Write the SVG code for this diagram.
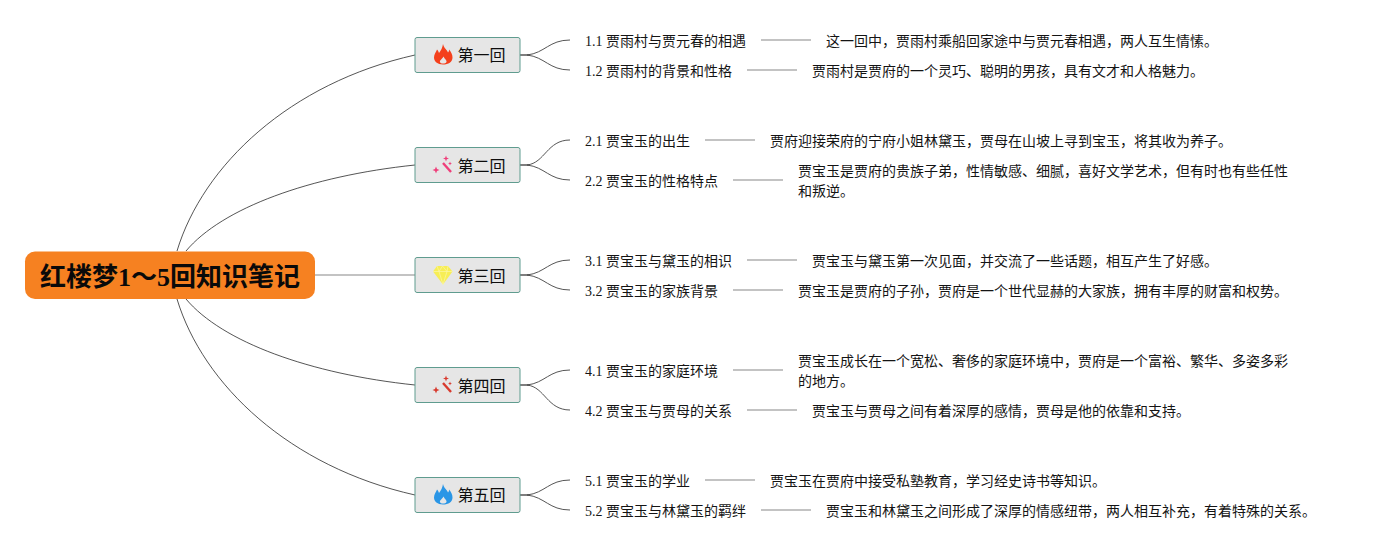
<svg xmlns="http://www.w3.org/2000/svg" width="1376" height="550" viewBox="0 0 1376 550">
<style>
text{font-family:"Liberation Serif","Noto Sans CJK SC",serif}
.r{font-size:26px;font-weight:700;fill:#0a0a0a}
.t{font-size:16px;fill:#0d0d0d}
.s,.d{font-size:14px;fill:#141414}
.box{fill:#e6e6e6;stroke:#5f9c8f;stroke-width:1}
.c{fill:none;stroke:#2a2a2a;stroke-width:.8}
.b{fill:none;stroke:#555;stroke-width:1}
.st{fill:none;stroke:#555;stroke-width:1.6}
.l{fill:none;stroke:#888;stroke-width:1.2}
</style>
<defs>
<path id="flame" d="M0-10.500C1-6 4-5 5-2C6-3 6-4 6-5C8-3 9.500 0 9.500 3C9.500 7.500 5.500 10 0 10C-5.500 10-9 7-9 3C-9-.500-7-2-6-5C-5-4-4.500-3-4-1.500C-2-4-.500-7 0-10.500ZM.5 2C-1 5-3.500 5.500-3 7.500C-2.500 9.500 2.500 9.500 3.500 7.500C4 5.500 1.500 4.500.5 2Z" fill-rule="evenodd"/>
<g id="wand"><path d="M1-3L9 6" stroke-width="2.4" stroke="currentColor" fill="none"/><path d="M-6 .5L-5 3L-2.500 4L-5 5L-6 7.500L-7 5L-9.500 4L-7 3ZM4-10.500L4.800-8.300L7-7.500L4.800-6.700L4-4.500L3.200-6.700L1-7.500L3.200-8.300ZM8-4.500L8.600-3L10-2.500L8.600-2L8-.500L7.400-2L6-2.500L7.400-3Z" fill="currentColor"/></g>
</defs>
<g id="connectors">
<path class="c" d="M177 251C203 165 290 83 415 55"/>
<path class="c" d="M186 251C222 208 310 176 415 165"/>
<path class="l" d="M315 275H415"/>
<path class="c" d="M186 299C222 342 310 374 415 385"/>
<path class="c" d="M177 299C203 385 290 467 415 495"/>
<path class="st" d="M520 55H530M520 165H530M520 275H530M520 385H530M520 495H530"/>
<path class="b" d="M527 55C545 53 549 40 570 40M527 55C545 57 549 70 570 70"/>
<path class="b" d="M527 165C545 163 547 140 570 140M527 165C545 167 549 180 570 180"/>
<path class="b" d="M527 275C545 273 549 260 570 260M527 275C545 277 549 290 570 290"/>
<path class="b" d="M527 385C545 383 549 370 570 370M527 385C545 387 547 410 570 410"/>
<path class="b" d="M527 495C545 493 549 480 570 480M527 495C545 497 549 510 570 510"/>
<path class="l" d="M761 40H811M747 70H797M705 140H755M733 180H783M747 260H797M733 290H783M733 370H783M747 410H797M705 480H755M761 510H811"/>
</g>
<g id="root"><rect x="25" y="251.500" width="290" height="47.500" rx="10" fill="#f68121"/><text class="r" x="40" y="286">红楼梦1～5回知识笔记</text></g>
<g id="n1"><rect class="box" x="415" y="37.500" width="105" height="35" rx="2"/><use href="#flame" x="443" y="54.500" fill="#f4401c"/><text class="t" x="457.500" y="61">第一回</text></g>
<g id="n2"><rect class="box" x="415" y="147.500" width="105" height="35" rx="2"/><use href="#wand" x="442" y="166" style="color:#ef3e7a"/><text class="t" x="457.500" y="172">第二回</text></g>
<g id="n3"><rect class="box" x="415" y="257.500" width="105" height="35" rx="2"/><path d="M437 266H448L452.500 271.500L443 284.500L433 271.500Z" fill="#f7ee55"/><path d="M433 271.500H452.500M437 266L439 271.500L443 284.500L447 271.500L448 266M439 271.500L442.500 266L447 271.500" fill="none" stroke="#fbf7a8" stroke-width=".7"/><text class="t" x="457.500" y="282">第三回</text></g>
<g id="n4"><rect class="box" x="415" y="367.500" width="105" height="35" rx="2"/><use href="#wand" x="442" y="386" style="color:#d83a2e"/><text class="t" x="457.500" y="392">第四回</text></g>
<g id="n5"><rect class="box" x="415" y="477.500" width="105" height="35" rx="2"/><use href="#flame" x="443" y="494.500" fill="#2a96e6"/><text class="t" x="457.500" y="501">第五回</text></g>
<g id="n1-1"><text class="s" x="585" y="46">1.1 贾雨村与贾元春的相遇</text></g>
<g id="n1-1-d"><text class="d" x="826" y="46">这一回中，贾雨村乘船回家途中与贾元春相遇，两人互生情愫。</text></g>
<g id="n1-2"><text class="s" x="585" y="76">1.2 贾雨村的背景和性格</text></g>
<g id="n1-2-d"><text class="d" x="812" y="76">贾雨村是贾府的一个灵巧、聪明的男孩，具有文才和人格魅力。</text></g>
<g id="n2-1"><text class="s" x="585" y="146">2.1 贾宝玉的出生</text></g>
<g id="n2-1-d"><text class="d" x="770" y="146">贾府迎接荣府的宁府小姐林黛玉，贾母在山坡上寻到宝玉，将其收为养子。</text></g>
<g id="n2-2"><text class="s" x="585" y="186">2.2 贾宝玉的性格特点</text></g>
<g id="n2-2-d"><text class="d" x="798" y="176">贾宝玉是贾府的贵族子弟，性情敏感、细腻，喜好文学艺术，但有时也有些任性</text><text class="d" x="798" y="196">和叛逆。</text></g>
<g id="n3-1"><text class="s" x="585" y="266">3.1 贾宝玉与黛玉的相识</text></g>
<g id="n3-1-d"><text class="d" x="812" y="266">贾宝玉与黛玉第一次见面，并交流了一些话题，相互产生了好感。</text></g>
<g id="n3-2"><text class="s" x="585" y="296">3.2 贾宝玉的家族背景</text></g>
<g id="n3-2-d"><text class="d" x="798" y="296">贾宝玉是贾府的子孙，贾府是一个世代显赫的大家族，拥有丰厚的财富和权势。</text></g>
<g id="n4-1"><text class="s" x="585" y="376">4.1 贾宝玉的家庭环境</text></g>
<g id="n4-1-d"><text class="d" x="798" y="366">贾宝玉成长在一个宽松、奢侈的家庭环境中，贾府是一个富裕、繁华、多姿多彩</text><text class="d" x="798" y="386">的地方。</text></g>
<g id="n4-2"><text class="s" x="585" y="416">4.2 贾宝玉与贾母的关系</text></g>
<g id="n4-2-d"><text class="d" x="812" y="416">贾宝玉与贾母之间有着深厚的感情，贾母是他的依靠和支持。</text></g>
<g id="n5-1"><text class="s" x="585" y="486">5.1 贾宝玉的学业</text></g>
<g id="n5-1-d"><text class="d" x="770" y="486">贾宝玉在贾府中接受私塾教育，学习经史诗书等知识。</text></g>
<g id="n5-2"><text class="s" x="585" y="516">5.2 贾宝玉与林黛玉的羁绊</text></g>
<g id="n5-2-d"><text class="d" x="826" y="516">贾宝玉和林黛玉之间形成了深厚的情感纽带，两人相互补充，有着特殊的关系。</text></g>
</svg>
